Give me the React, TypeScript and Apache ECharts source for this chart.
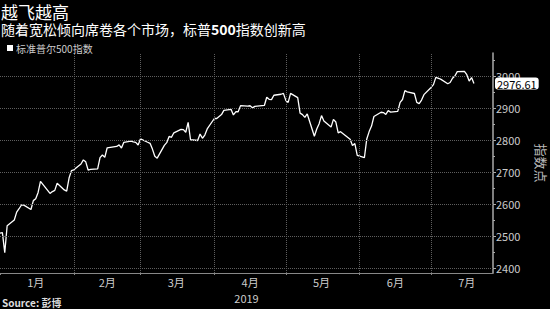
import React, { useEffect, useRef } from "react";
import * as echarts from "echarts";

const titleText = "越飞越高";
const subtitlePre = "随着宽松倾向席卷各个市场，标普";
const subtitleNum = "500";
const subtitlePost = "指数创新高";
const seriesName = "标准普尔500指数";
const sourceText = "Source: 彭博";
const yName = "指数点";
const xName = "2019";

const yTicks = [2400, 2500, 2600, 2700, 2800, 2900, 3000];
const yMinorTicks = [2450, 2550, 2650, 2750, 2850, 2950, 3050];
const monthStarts = ["2019-01-01", "2019-02-01", "2019-03-01", "2019-04-01", "2019-05-01", "2019-06-01", "2019-07-01"];
const monthMids = ["2019-01-16", "2019-02-15", "2019-03-16", "2019-04-16", "2019-05-16", "2019-06-16", "2019-07-16"];

const dates = [
  "2018-12-31", "2019-01-02", "2019-01-03", "2019-01-04", "2019-01-07", "2019-01-08", "2019-01-09", "2019-01-10", "2019-01-11",
  "2019-01-14", "2019-01-15", "2019-01-16", "2019-01-17", "2019-01-18", "2019-01-22", "2019-01-23", "2019-01-24", "2019-01-25",
  "2019-01-28", "2019-01-29", "2019-01-30", "2019-01-31", "2019-02-01", "2019-02-04", "2019-02-05", "2019-02-06", "2019-02-07",
  "2019-02-08", "2019-02-11", "2019-02-12", "2019-02-13", "2019-02-14", "2019-02-15", "2019-02-19", "2019-02-20", "2019-02-21",
  "2019-02-22", "2019-02-25", "2019-02-26", "2019-02-27", "2019-02-28", "2019-03-01", "2019-03-04", "2019-03-05", "2019-03-06",
  "2019-03-07", "2019-03-08", "2019-03-11", "2019-03-12", "2019-03-13", "2019-03-14", "2019-03-15", "2019-03-18", "2019-03-19",
  "2019-03-20", "2019-03-21", "2019-03-22", "2019-03-25", "2019-03-26", "2019-03-27", "2019-03-28", "2019-03-29", "2019-04-01",
  "2019-04-02", "2019-04-03", "2019-04-04", "2019-04-05", "2019-04-08", "2019-04-09", "2019-04-10", "2019-04-11", "2019-04-12",
  "2019-04-15", "2019-04-16", "2019-04-17", "2019-04-18", "2019-04-22", "2019-04-23", "2019-04-24", "2019-04-25", "2019-04-26",
  "2019-04-29", "2019-04-30", "2019-05-01", "2019-05-02", "2019-05-03", "2019-05-06", "2019-05-07", "2019-05-08", "2019-05-09",
  "2019-05-10", "2019-05-13", "2019-05-14", "2019-05-15", "2019-05-16", "2019-05-17", "2019-05-20", "2019-05-21", "2019-05-22",
  "2019-05-23", "2019-05-24", "2019-05-28", "2019-05-29", "2019-05-30", "2019-05-31", "2019-06-03", "2019-06-04", "2019-06-05",
  "2019-06-06", "2019-06-07", "2019-06-10", "2019-06-11", "2019-06-12", "2019-06-13", "2019-06-14", "2019-06-17", "2019-06-18",
  "2019-06-19", "2019-06-20", "2019-06-21", "2019-06-24", "2019-06-25", "2019-06-26", "2019-06-27", "2019-06-28", "2019-07-01",
  "2019-07-02", "2019-07-03", "2019-07-05", "2019-07-08", "2019-07-09", "2019-07-10", "2019-07-11", "2019-07-12", "2019-07-15",
  "2019-07-16", "2019-07-17", "2019-07-18", "2019-07-19",
];

const values = [
  2506.85, 2510.03, 2447.89, 2531.94, 2549.69, 2574.41, 2584.96, 2596.64, 2596.26,
  2582.61, 2610.3, 2616.1, 2635.96, 2670.71, 2632.9, 2638.7, 2642.33, 2664.76,
  2643.85, 2640.0, 2681.05, 2704.1, 2706.53, 2724.87, 2737.7, 2731.61, 2706.05,
  2707.88, 2709.8, 2744.73, 2753.03, 2745.73, 2775.6, 2779.76, 2784.7, 2774.88,
  2792.67, 2796.11, 2793.9, 2792.38, 2784.49, 2803.69, 2792.81, 2789.65, 2771.45,
  2748.93, 2743.07, 2783.3, 2791.52, 2810.92, 2808.48, 2822.48, 2832.94, 2832.57,
  2824.23, 2854.88, 2800.71, 2798.36, 2818.46, 2805.37, 2815.44, 2834.4, 2867.19,
  2867.24, 2873.4, 2879.39, 2892.74, 2895.77, 2878.2, 2888.21, 2888.32, 2907.41,
  2905.58, 2907.06, 2900.45, 2905.03, 2907.97, 2933.68, 2927.25, 2926.17, 2939.88,
  2943.03, 2945.83, 2923.73, 2917.52, 2945.64, 2932.47, 2884.05, 2879.42, 2870.72,
  2881.4, 2811.87, 2834.41, 2850.96, 2876.32, 2859.53, 2840.23, 2864.36, 2856.27,
  2822.24, 2826.06, 2802.39, 2783.02, 2788.86, 2752.06, 2744.45, 2803.27, 2826.15,
  2843.49, 2873.34, 2886.73, 2885.72, 2879.84, 2891.64, 2886.98, 2889.67, 2917.75,
  2926.46, 2954.18, 2950.46, 2945.35, 2917.38, 2913.78, 2924.92, 2941.76, 2964.33,
  2973.01, 2995.82, 2990.41, 2975.95, 2979.63, 2993.07, 2999.91, 3013.77, 3014.3,
  3004.04, 2984.42, 2995.11, 2976.61,
];

const toTs = (s: string) => {
  const [y, m, d] = s.split("-").map(Number);
  return new Date(y, m - 1, d).getTime();
};

export default function App() {
  const ref = useRef<HTMLDivElement>(null);
  useEffect(() => {
    document.body.style.margin = "0";
    document.body.style.background = "#000";
    if (!ref.current) return;
    const chart = echarts.init(ref.current, null, { renderer: "svg" });
    const last = values[values.length - 1];
    const font = "'Noto Sans CJK SC', 'Noto Sans', sans-serif";
    const gridLine = () => ({ color: "#5e5e5e", type: "dotted" as const, width: 1 });
    chart.setOption({
      animation: false,
      backgroundColor: "#000",
      textStyle: { fontFamily: font },
      title: [
        {
          text: titleText,
          left: 1,
          top: 3,
          padding: 0,
          textStyle: { color: "#fff", fontSize: 17, lineHeight: 17, fontWeight: "normal", fontFamily: font },
        },
        {
          text: `{a|${subtitlePre}}{b|${subtitleNum}}{a|${subtitlePost}}`,
          left: 1,
          top: 21,
          padding: 0,
          textStyle: {
            rich: {
              a: { color: "#fff", fontSize: 14, lineHeight: 15, fontFamily: font, fontWeight: "normal" },
              b: { color: "#fff", fontSize: 14, lineHeight: 15, fontFamily: font, fontWeight: "bold" },
            },
          },
        },
        {
          text: sourceText,
          left: 2,
          bottom: 2,
          padding: 0,
          textStyle: { color: "#ddd", fontSize: 10, fontWeight: "bold", fontFamily: font },
        },
      ],
      legend: {
        left: 2,
        top: 38,
        icon: "rect",
        itemWidth: 6,
        itemHeight: 6,
        itemGap: 4,
        textStyle: { color: "#ccc", fontSize: 10, fontFamily: font, padding: [0, 0, 0, -2] },
        data: [seriesName],
      },
      grid: { left: 0, right: 57, top: 53, bottom: 36, containLabel: false, outerBoundsMode: "none" },
      xAxis: {
        type: "value",
        min: toTs("2019-01-01"),
        max: toTs("2019-07-27"),
        name: xName,
        nameLocation: "middle",
        nameGap: 19,
        nameTextStyle: { color: "#ccc", fontSize: 11 },
        axisLine: { show: true, onZero: false, lineStyle: { color: "#888" } },
        axisTick: { show: true, customValues: monthStarts.map(toTs), length: 2, lineStyle: { color: "#888" } },
        axisLabel: {
          customValues: monthMids.map(toTs),
          color: "#ccc",
          fontSize: 11,
          margin: 3,
          formatter: (v: number) => `${new Date(v).getMonth() + 1}月`,
        },
        splitLine: { show: false },
      },
      yAxis: [
        {
          type: "value",
          position: "right",
          min: 2384,
          max: 3072,
          name: yName,
          nameLocation: "middle",
          nameRotate: -90,
          nameGap: 42,
          nameTextStyle: { color: "#bbb", fontSize: 13 },
          axisLine: { show: true, lineStyle: { color: "#aaa", width: 1.5 } },
          axisTick: { show: true, customValues: yTicks, length: 3, lineStyle: { color: "#aaa" } },
          axisLabel: { customValues: yTicks, color: "#ccc", fontSize: 11, margin: 3, formatter: (v: number) => String(v) },
          splitLine: { show: false },
          axisPointer: {
            show: true,
            status: "show",
            value: last,
            triggerTooltip: false,
            lineStyle: { opacity: 0 },
            label: {
              show: true,
              backgroundColor: "#fff",
              color: "#000",
              fontSize: 11,
              padding: [1, 2, 0, 2],
              margin: 2,
              formatter: (p: any) => Number(p.value).toFixed(2),
            },
          },
        },
        {
          type: "value",
          position: "right",
          min: 2384,
          max: 3072,
          axisLine: { show: false },
          axisTick: { show: true, customValues: yMinorTicks, length: 2, lineStyle: { color: "#aaa" } },
          axisLabel: { show: false },
          splitLine: { show: false },
        },
      ],
      series: [
        {
          name: seriesName,
          type: "line",
          data: dates.map((d, i) => [toTs(d), values[i]]),
          showSymbol: false,
          symbol: "none",
          lineStyle: { color: "#fff", width: 1.3 },
          itemStyle: { color: "#fff" },
          clip: true,
          z: 3,
        },
        {
          name: "grid",
          type: "line",
          data: [],
          z: 1,
          markLine: {
            silent: true,
            symbol: "none",
            label: { show: false },
            emphasis: { disabled: true },
            lineStyle: gridLine(),
            data: [
              ...monthStarts.slice(1).map((m) => ({ xAxis: toTs(m), lineStyle: gridLine() })),
              ...yTicks.map((t) => ({ yAxis: t, lineStyle: gridLine() })),
            ],
          },
        },
      ],
    });
    return () => chart.dispose();
  }, []);
  return <div ref={ref} style={{ width: 550, height: 309 }} />;
}
